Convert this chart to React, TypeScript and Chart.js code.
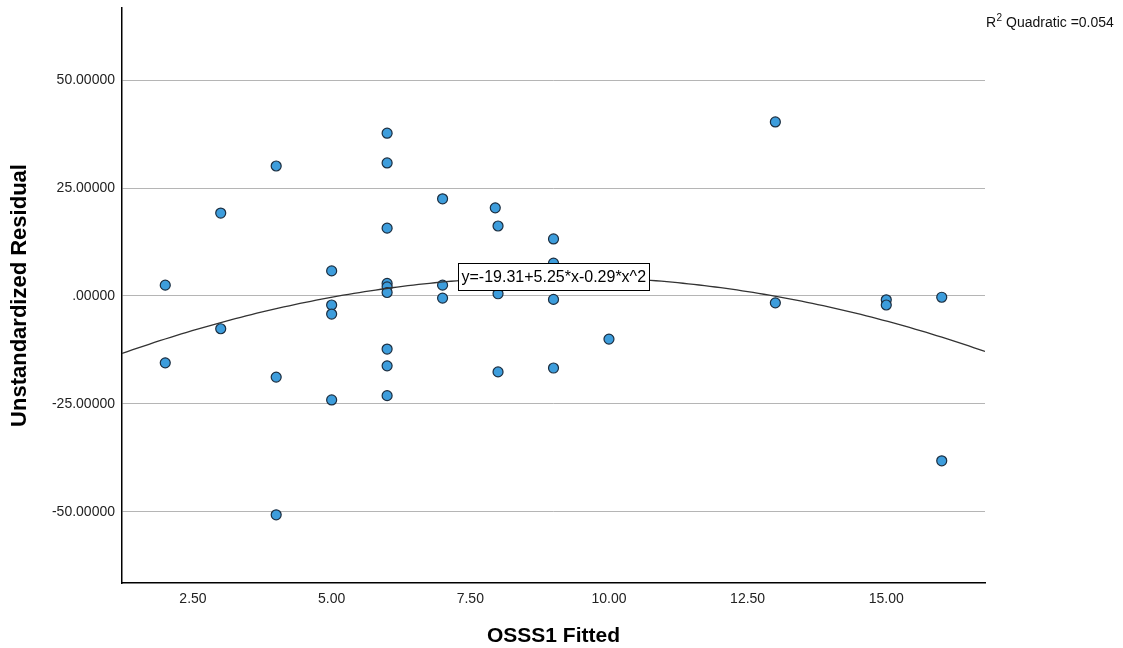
import React, { useEffect, useRef } from 'react';
import { Chart, registerables } from 'chart.js';

Chart.register(...registerables);

const residualX = [2, 2, 3, 3, 4, 4, 4, 5, 5, 5, 5, 6, 6, 6, 6, 6, 6, 6, 6, 6, 7, 7, 7, 7.95, 8, 8, 8, 9, 9, 9, 9, 10, 13, 13, 15, 15, 16, 16];
const residualY = [2.5, -15.5, 19.2, -7.6, 30.1, -18.8, -50.7, 5.8, -2.1, -4.2, -24.1, 37.7, 30.8, 15.7, 2.9, 2.1, 0.8, -12.3, -16.2, -23.1, 22.5, 2.5, -0.5, 20.4, 16.2, 0.5, -17.6, 13.2, 7.6, -0.8, -16.7, -10, 40.3, -1.6, -0.9, -2.1, -0.3, -38.2];

const xTickValues = [2.5, 5, 7.5, 10, 12.5, 15];
const yTickValues = [-50, -25, 0, 25, 50];
const xAxisRange = [1.22, 16.78];
const yAxisRange = [-66.5, 66.7];

const fitCoefficients = [-19.31, 5.25, -0.29];
const fitLabel = 'y=-19.31+5.25*x-0.29*x^2';
const fitLabelAnchor = [7.28, 7.6];
const rSquaredText = ' Quadratic =0.054';

const xAxisTitle = 'OSSS1 Fitted';
const yAxisTitle = 'Unstandardized Residual';

const FONT = "'Liberation Sans', Arial, sans-serif";

export default function App() {
  const ref = useRef<HTMLCanvasElement>(null);

  useEffect(() => {
    if (!ref.current) return;
    const steps = 160;
    const fitData = Array.from({ length: steps + 1 }, (_, i) => {
      const x = xAxisRange[0] + ((xAxisRange[1] - xAxisRange[0]) * i) / steps;
      return { x, y: fitCoefficients[0] + fitCoefficients[1] * x + fitCoefficients[2] * x * x };
    });
    const points = residualX.map((x, i) => ({ x, y: residualY[i] }));

    const overlay = {
      id: 'overlay',
      afterDraw(chart: any) {
        const ctx = chart.ctx;
        const xs = chart.scales.x;
        const ys = chart.scales.y;
        ctx.save();
        // fit label box
        ctx.font = `16px ${FONT}`;
        const left = Math.round(xs.getPixelForValue(fitLabelAnchor[0])) + 0.5;
        const top = Math.round(ys.getPixelForValue(fitLabelAnchor[1])) + 0.5;
        const w = Math.ceil(ctx.measureText(fitLabel).width) + 6;
        const h = 27;
        ctx.fillStyle = '#ffffff';
        ctx.fillRect(left, top, w, h);
        ctx.strokeStyle = '#000000';
        ctx.lineWidth = 1;
        ctx.strokeRect(left, top, w, h);
        ctx.fillStyle = '#000000';
        ctx.textBaseline = 'middle';
        ctx.textAlign = 'left';
        ctx.fillText(fitLabel, left + 3, top + h / 2 + 1);
        // R squared
        const rx = chart.chartArea.right + 1;
        const ry = 27;
        ctx.textBaseline = 'alphabetic';
        ctx.font = `14px ${FONT}`;
        ctx.fillStyle = '#111111';
        ctx.fillText('R', rx, ry);
        const rw = ctx.measureText('R').width;
        ctx.font = `10px ${FONT}`;
        ctx.fillText('2', rx + rw + 0.5, ry - 6);
        const sw = ctx.measureText('2').width;
        ctx.font = `14px ${FONT}`;
        ctx.fillText(rSquaredText, rx + rw + sw + 0.5, ry);
        ctx.restore();
      },
    };

    const chart = new Chart(ref.current, {
      type: 'scatter',
      data: {
        datasets: [
          {
            type: 'line',
            data: fitData,
            borderColor: '#333333',
            borderWidth: 1.3,
            pointRadius: 0,
            fill: false,
            order: 0,
          } as any,
          {
            type: 'scatter',
            data: points,
            backgroundColor: '#3d9ddc',
            borderColor: '#1c2e40',
            borderWidth: 1.2,
            pointRadius: 5,
            order: 1,
          },
        ],
      },
      options: {
        animation: false,
        responsive: true,
        maintainAspectRatio: false,
        layout: { padding: { top: 8, right: 138, left: 0, bottom: 0 } },
        plugins: { legend: { display: false }, tooltip: { enabled: false } },
        scales: {
          x: {
            type: 'linear',
            min: xAxisRange[0],
            max: xAxisRange[1],
            afterBuildTicks: (s: any) => {
              s.ticks = xTickValues.map((v) => ({ value: v }));
            },
            afterFit: (s: any) => {
              s.height = 65;
              s.paddingLeft = 0;
              s.paddingRight = 0;
            },
            grid: { display: false, drawTicks: false },
            border: { display: true, color: '#000000', width: 1.5 },
            ticks: {
              color: '#222222',
              font: { family: FONT, size: 14 },
              padding: 8,
              maxRotation: 0,
              autoSkip: false,
              callback: (v: any) => Number(v).toFixed(2),
            },
            title: {
              display: true,
              text: xAxisTitle,
              color: '#000000',
              font: { family: FONT, size: 21, weight: 'bold', lineHeight: 1 },
              padding: 1,
            },
          },
          y: {
            type: 'linear',
            min: yAxisRange[0],
            max: yAxisRange[1],
            afterBuildTicks: (s: any) => {
              s.ticks = yTickValues.map((v) => ({ value: v }));
            },
            afterFit: (s: any) => {
              s.width = 122;
              s.paddingTop = 0;
              s.paddingBottom = 0;
            },
            grid: { display: true, color: '#b5b5b5', lineWidth: 1, drawTicks: false },
            border: { display: true, color: '#000000', width: 1.5 },
            ticks: {
              color: '#222222',
              font: { family: FONT, size: 14 },
              padding: 7,
              autoSkip: false,
              callback: (v: any) => (Number(v) === 0 ? '.00000' : Number(v).toFixed(5)),
            },
            title: {
              display: true,
              text: yAxisTitle,
              color: '#000000',
              font: { family: FONT, size: 22, weight: 'bold', lineHeight: 1 },
              padding: 8.5,
            },
          },
        },
      },
      plugins: [overlay],
    });
    return () => chart.destroy();
  }, []);

  return (
    <div style={{ position: 'fixed', left: 0, top: 0, width: 1123, height: 648, background: '#ffffff' }}>
      <canvas ref={ref} />
    </div>
  );
}
